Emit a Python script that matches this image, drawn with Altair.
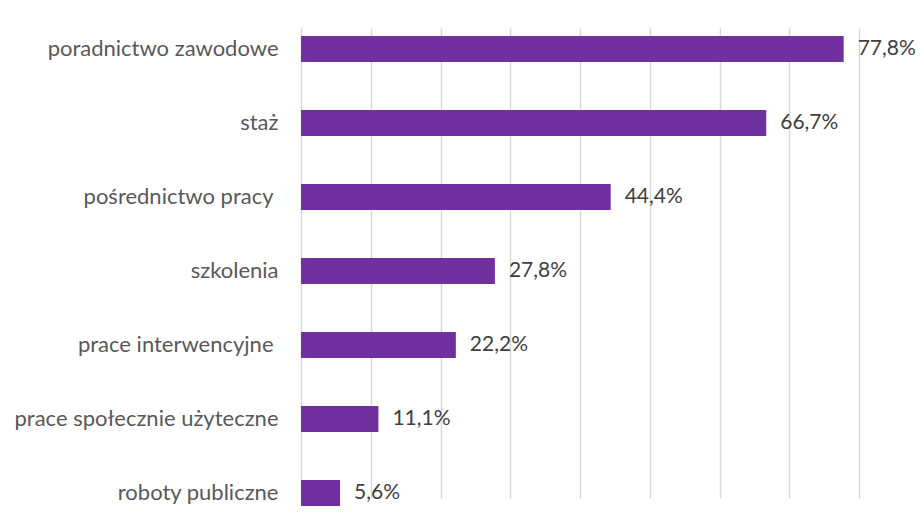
import altair as alt
import pandas as pd

categories = [
    "poradnictwo zawodowe",
    "staż",
    "pośrednictwo pracy ",
    "szkolenia",
    "prace interwencyjne ",
    "prace społecznie użyteczne",
    "roboty publiczne",
]
values = [77.8, 66.7, 44.4, 27.8, 22.2, 11.1, 5.6]
x_ticks = [0, 10, 20, 30, 40, 50, 60, 70, 80]

df = pd.DataFrame({
    "kategoria": categories,
    "wartosc": values,
    "etykieta": [f"{v:.1f}%".replace(".", ",") for v in values],
})

FONT = "Lato"

y_enc = alt.Y(
    "kategoria:N",
    sort=categories,
    scale=alt.Scale(range=[24, 494], paddingInner=0.65, paddingOuter=0),
    axis=alt.Axis(
        title=None, domain=False, ticks=False, grid=False,
        labelFont=FONT, labelFontSize=22, labelColor="#595959",
        labelExpr="trim(datum.label)",
        labelPadding={"condition": {"test": "test(/ $/, datum.value)", "value": 28}, "value": 23},
        labelLimit=400,
    ),
)
x_enc = alt.X(
    "wartosc:Q",
    scale=alt.Scale(domain=[0, 80], nice=False),
    axis=alt.Axis(
        title=None, labels=False, ticks=False, domain=False,
        values=x_ticks, grid=True, gridColor="#d9d9d9", gridWidth=1.5,
    ),
)

bars = alt.Chart(df).mark_bar(color="#7030A0").encode(x=x_enc, y=y_enc)

labels = alt.Chart(df).mark_text(
    align="left", baseline="middle", dx=14,
    font=FONT, fontSize=21, color="#404040",
).encode(x="wartosc:Q", y=alt.Y("kategoria:N", sort=categories), text="etykieta:N")

chart = (bars + labels).properties(
    width=558,
    height=510,
    autosize=alt.AutoSizeParams(type="none"),
    padding={"left": 293, "top": 4, "right": 57, "bottom": 0},
).configure_view(stroke=None)

chart.save("out.html", embed_options={"renderer": "svg", "actions": False})
